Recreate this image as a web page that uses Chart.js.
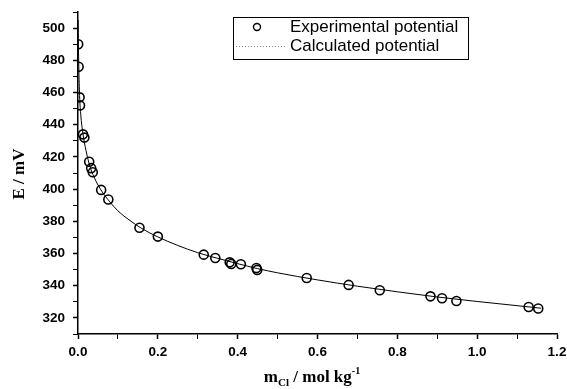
<!DOCTYPE html>
<html>
<head>
<meta charset="utf-8">
<script src="https://cdn.jsdelivr.net/npm/chart.js@4.4.1/dist/chart.umd.min.js"></script>
<style>
    html, body { margin: 0; padding: 0; background: #fff; }
    #wrap { width: 567px; height: 389px; }
</style>
</head>
<body>
<div id="wrap"><canvas id="potChart" width="567" height="389"></canvas></div>
<script>
// Dados
const expM = [0.0005, 0.0015, 0.004, 0.005, 0.0125, 0.016, 0.028, 0.033, 0.037, 0.058, 0.076,
    0.154, 0.200, 0.315, 0.344, 0.380, 0.384, 0.408, 0.447, 0.449, 0.573, 0.678, 0.756,
    0.883, 0.912, 0.948, 1.129, 1.153];
const expE = [490, 476, 457, 452, 434, 432, 417, 413, 410.5, 399.5, 393.5,
    376, 370.5, 359.3, 357.2, 354.5, 353.5, 353.3, 351, 349.8, 344.8, 340.5, 337.2,
    333.4, 332.2, 330.5, 326.8, 325.8];

const calcM = [0.0003, 0.001, 0.002, 0.004, 0.007, 0.012, 0.02, 0.03, 0.045, 0.06, 0.08, 0.1,
    0.13, 0.16, 0.2, 0.25, 0.3, 0.35, 0.4, 0.45, 0.5, 0.6, 0.7, 0.8, 0.9, 1.0, 1.1, 1.16];
const calcE = [505, 490, 476, 458, 446, 435, 424, 414, 405, 398.5, 392, 386.5,
    380.5, 375.5, 370.3, 365, 360.5, 357, 353.7, 350.6, 348, 343.6, 339.7, 336.2, 333, 330.2, 327.6, 326];

const xMajor = [0, 0.2, 0.4, 0.6, 0.8, 1.0, 1.2];
const yMajor = [320, 340, 360, 380, 400, 420, 440, 460, 480, 500];

const legendLabels = ["Experimental potential", "Calculated potential"];

const toXY = (xs, ys) => xs.map((x, i) => ({ x: x, y: ys[i] }));
const isMajor = (list, v) => list.some(m => Math.abs(m - v) < 1e-6);

// Títulos dos eixos e legenda desenhados à mão (subscrito / sobrescrito)
const decorations = {
    id: "decorations",
    afterDraw(chart) {
        const c = chart.ctx;
        c.save();
        c.fillStyle = "#000";

        // eixo Y
        c.translate(20, 174);
        c.rotate(-Math.PI / 2);
        c.font = "bold 17px 'Liberation Serif'";
        c.textAlign = "center";
        c.textBaseline = "middle";
        c.fillText("E / mV", 0, 0);
        c.setTransform(1, 0, 0, 1, 0, 0);

        // eixo X: m_Cl / mol kg^-1
        const parts = [
            { t: "m", f: "bold 17px 'Liberation Serif'", dy: 0 },
            { t: "Cl", f: "bold 11px 'Liberation Serif'", dy: 4 },
            { t: " / mol kg", f: "bold 17px 'Liberation Serif'", dy: 0 },
            { t: "-1", f: "bold 10px 'Liberation Serif'", dy: -8 }
        ];
        let total = 0;
        parts.forEach(p => { c.font = p.f; total += c.measureText(p.t).width; });
        let x = 312 - total / 2;
        const base = 382;
        c.textAlign = "left";
        c.textBaseline = "alphabetic";
        parts.forEach(p => {
            c.font = p.f;
            c.fillText(p.t, x, base + p.dy);
            x += c.measureText(p.t).width;
        });

        // legenda
        c.strokeStyle = "#000";
        c.lineWidth = 1;
        c.strokeRect(233.5, 17.5, 235, 42);
        c.beginPath();
        c.arc(257, 27, 3.5, 0, Math.PI * 2);
        c.lineWidth = 1.4;
        c.stroke();
        c.beginPath();
        c.setLineDash([1, 2]);
        c.strokeStyle = "#888";
        c.lineWidth = 1;
        c.moveTo(236, 46.5);
        c.lineTo(286, 46.5);
        c.stroke();
        c.setLineDash([]);
        c.font = "17px 'Liberation Sans'";
        c.textBaseline = "middle";
        c.fillText(legendLabels[0], 290, 27);
        c.fillText(legendLabels[1], 290, 46);
        c.restore();
    }
};

const tickFont = { family: "'Liberation Sans'", size: 13.5, weight: "bold" };

const ctx = document.getElementById("potChart").getContext("2d");
new Chart(ctx, {
    type: "scatter",
    data: {
        datasets: [
            {
                label: legendLabels[1],
                data: toXY(calcM, calcE),
                showLine: true,
                borderColor: "#000",
                borderWidth: 1,
                pointRadius: 0,
                cubicInterpolationMode: "monotone",
                order: 2
            },
            {
                label: legendLabels[0],
                data: toXY(expM, expE),
                borderColor: "#000",
                backgroundColor: "rgba(255,255,255,0)",
                pointRadius: 4.5,
                pointBorderWidth: 1.6,
                order: 1
            }
        ]
    },
    options: {
        responsive: false,
        animation: false,
        layout: { padding: { left: 0, top: 12, right: 10, bottom: 0 } },
        plugins: {
            legend: { display: false },
            tooltip: { enabled: false }
        },
        scales: {
            x: {
                type: "linear",
                min: 0,
                max: 1.2,
                afterFit: s => { s.height = 55; s.paddingLeft = 0; s.paddingRight = 0; },
                border: { color: "#000", width: 1.5 },
                grid: {
                    drawOnChartArea: false,
                    tickLength: 5,
                    tickColor: "#000",
                    tickWidth: c => isMajor(xMajor, c.tick.value) ? 1.5 : 1
                },
                ticks: {
                    stepSize: 0.1,
                    color: "#000",
                    padding: 5,
                    maxRotation: 0,
                    autoSkip: false,
                    font: tickFont,
                    callback: v => isMajor(xMajor, v) ? v.toFixed(1) : ""
                }
            },
            y: {
                min: 310,
                max: 510,
                afterFit: s => { s.width = 78; s.paddingTop = 0; s.paddingBottom = 0; },
                border: { color: "#000", width: 1.5 },
                grid: {
                    drawOnChartArea: false,
                    tickLength: 5,
                    tickColor: "#000",
                    tickWidth: c => isMajor(yMajor, c.tick.value) ? 1.5 : 1
                },
                ticks: {
                    stepSize: 10,
                    color: "#000",
                    padding: 8,
                    autoSkip: false,
                    font: tickFont,
                    callback: v => isMajor(yMajor, v) ? String(v) : ""
                }
            }
        }
    },
    plugins: [decorations]
});
</script>
</body>
</html>
